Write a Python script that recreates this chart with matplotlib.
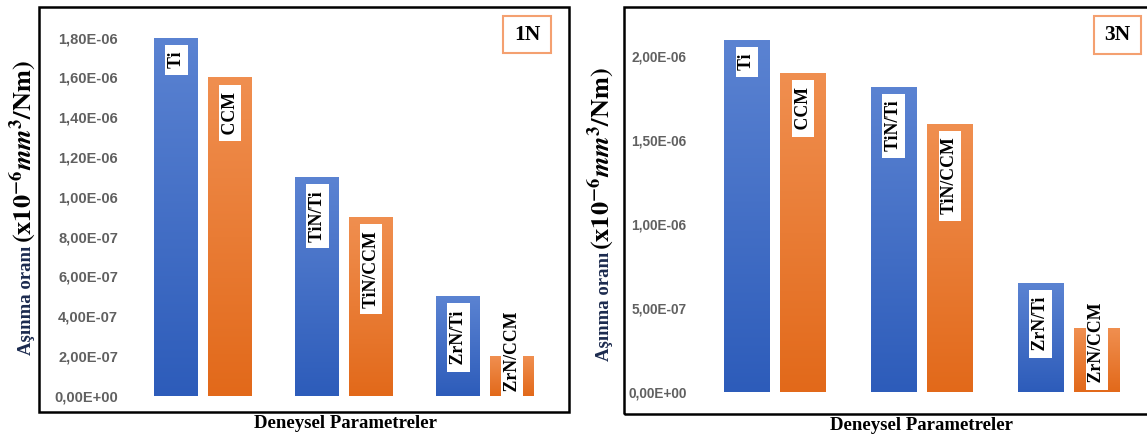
import numpy as np
import matplotlib
matplotlib.use("Agg")
import matplotlib.pyplot as plt
from matplotlib.patches import Rectangle
from matplotlib.colors import LinearSegmentedColormap

# ---------------- data ----------------
labels_blue = ["Ti", "TiN/Ti", "ZrN/Ti"]
labels_orange = ["CCM", "TiN/CCM", "ZrN/CCM"]
vals_1N_blue = [1.80e-6, 1.10e-6, 5.0e-7]
vals_1N_orange = [1.60e-6, 9.0e-7, 2.0e-7]
vals_3N_blue = [2.10e-6, 1.82e-6, 6.5e-7]
vals_3N_orange = [1.90e-6, 1.60e-6, 3.8e-7]
ticks_1N = [0, 2e-7, 4e-7, 6e-7, 8e-7, 1.0e-6, 1.2e-6, 1.4e-6, 1.6e-6, 1.8e-6]
ticks_3N = [0, 5e-7, 1.0e-6, 1.5e-6, 2.0e-6]
panel_titles = ["1N", "3N"]
xlabel = "Deneysel Parametreler"
ylabel_text = "Aşınma oranı"
ylabel_math = r"$\mathbf{(x10^{-6}}\mathbfit{mm}^{\mathbf{3}}\mathbf{/Nm)}$"

W, H = 1147, 436
plt.rcParams['mathtext.fontset'] = 'stix'
SERIF = ['Liberation Serif', 'DejaVu Serif']
SANS = ['Liberation Sans', 'DejaVu Sans']
LAB_FS = 12.8

fig = plt.figure(figsize=(W / 100, H / 100), dpi=100)

blue_cmap = LinearSegmentedColormap.from_list('b', ['#2D5CBA', '#5B83D2'])
orange_cmap = LinearSegmentedColormap.from_list('o', ['#E2691A', '#F08F50'])
grad = np.linspace(0, 1, 256).reshape(-1, 1)


def px_axes(left, right, top, bottom):
    return [left / W, 1 - bottom / H, (right - left) / W, (bottom - top) / H]


def bar_label(ax, text, xy, dy, va):
    ax.annotate(" " + text + " ", xy=xy, xytext=(0, dy),
                textcoords='offset points', rotation=90, ha='center', va=va,
                family=SERIF, fontweight='bold', fontsize=LAB_FS, zorder=5,
                bbox=dict(boxstyle='square,pad=0.15', fc='white', ec='none'))


def draw_panel(ax, vb, vo, ticks, ymax, width, off, fs_tick, zr_off):
    x = np.arange(len(vb))
    bars_b = ax.bar(x - off, vb, width, color='#4472C4', zorder=2)
    bars_o = ax.bar(x + off, vo, width, color='#ED7D31', zorder=2)
    for bars, cmap in ((bars_b, blue_cmap), (bars_o, orange_cmap)):
        for r in bars:
            x0, w, h = r.get_x(), r.get_width(), r.get_height()
            im = ax.imshow(grad, extent=[x0, x0 + w, 0, h], origin='lower',
                           aspect='auto', cmap=cmap, zorder=3)
            im.set_clip_path(r)
    for xb, v, lab in zip(x - off, vb, labels_blue):
        bar_label(ax, lab, (xb, v), -7, 'top')
    for i, (xo, v, lab) in enumerate(zip(x + off, vo, labels_orange)):
        if i == len(vo) - 1:
            bar_label(ax, lab, (xo, 0), zr_off, 'bottom')
        else:
            bar_label(ax, lab, (xo, v), -7, 'top')
    ax.set_xlim(-0.55, 2.55)
    ax.set_ylim(0, ymax)
    ax.set_yticks(ticks)
    ax.set_yticklabels([f"{t:.2E}".replace('.', ',') for t in ticks],
                       family=SANS, fontsize=fs_tick, fontweight='bold', color='#606060')
    ax.set_xticks([])
    ax.tick_params(axis='y', length=0, pad=5.5)
    for s in ax.spines.values():
        s.set_visible(False)
    ax.patch.set_alpha(0)


# left panel
axL = fig.add_axes(px_axes(125.7, 562.8, 17.8, 395.7))
draw_panel(axL, vals_1N_blue, vals_1N_orange, ticks_1N, 1.9e-6, 0.312, 0.19, 10.5, 0)
# right panel
axR = fig.add_axes(px_axes(694.3, 1149.3, 14.6, 391.6))
draw_panel(axR, vals_3N_blue, vals_3N_orange, ticks_3N, 2.25e-6, 0.31, 0.192, 9.8, 3)

# frames
for (x0, x1, y0, y1) in [(39, 569, 6.7, 411.7), (624, 1152, 6.7, 414)]:
    fig.patches.append(Rectangle((x0 / W, 1 - y1 / H), (x1 - x0) / W, (y1 - y0) / H,
                                 transform=fig.transFigure, fill=False,
                                 ec='black', lw=1.8, zorder=10))

# title boxes
for (x0, x1, y0, y1), t in zip([(503, 551, 16, 53), (1094, 1141, 16, 54)], panel_titles):
    fig.patches.append(Rectangle((x0 / W, 1 - y1 / H), (x1 - x0) / W, (y1 - y0) / H,
                                 transform=fig.transFigure, fc='white',
                                 ec='#F4A070', lw=1.5, zorder=10))
    fig.text((x0 + x1) / 2 / W, 1 - (y0 + y1) / 2 / H, t, ha='center', va='center',
             family=SERIF, fontweight='bold', fontsize=15.5, zorder=11)

# x labels
for xc, yc in [(346, 423), (921, 425.5)]:
    fig.text(xc / W, 1 - yc / H, xlabel, ha='center', va='center',
             family=SERIF, fontweight='bold', fontsize=13.5)

# y labels
for xb, y_txt, y_math in [(31, 300.5, 152), (609, 306, 159)]:
    fig.text(xb / W, 1 - y_txt / H, ylabel_text, rotation=90, rotation_mode='anchor',
             ha='center', va='baseline', family=SERIF, fontweight='bold',
             fontsize=13.5, color='#1B2A4E')
    fig.text(xb / W, 1 - y_math / H, ylabel_math, rotation=90, rotation_mode='anchor',
             ha='center', va='baseline', fontsize=19, color='black')

fig.savefig('out.png', dpi=100)
